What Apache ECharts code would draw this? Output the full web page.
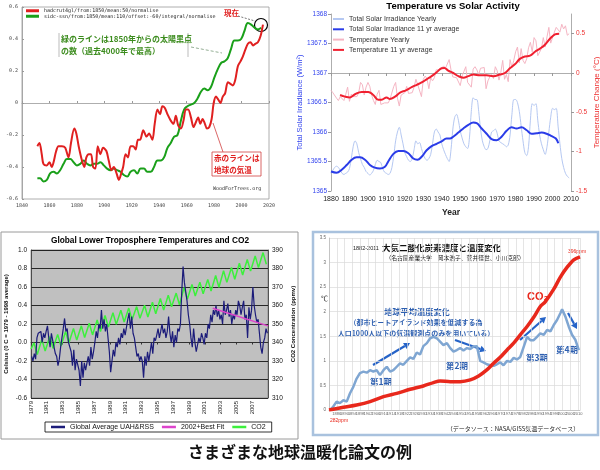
<!DOCTYPE html>
<html><head><meta charset="utf-8">
<script src="https://cdn.jsdelivr.net/npm/echarts/dist/echarts.min.js"></script>
<style>html,body{margin:0;padding:0;background:#fff}#c{width:600px;height:470px}</style>
</head><body><div id="c"></div>
<script>
// ---------- Top-left: WoodForTrees (year, normalised value) ----------
const tlRed = [[1851.2,-0.27],[1852.7,-0.25],[1854.4,-0.32],[1855.6,-0.38],[1858.1,-0.39],[1860.0,-0.37],[1861.7,-0.40],[1863.0,-0.37],[1864.9,-0.30],[1866.6,-0.27],[1869.1,-0.27],[1871.5,-0.28],[1873.9,-0.34],[1875.7,-0.25],[1878.1,-0.16],[1879.6,-0.19],[1881.3,-0.27],[1883.7,-0.36],[1885.4,-0.40],[1886.9,-0.34],[1888.6,-0.32],[1890.3,-0.32],[1891.8,-0.40],[1893.5,-0.41],[1895.2,-0.27],[1897.1,-0.32],[1899.1,-0.28],[1901.5,-0.30],[1903.2,-0.36],[1905.2,-0.42],[1906.9,-0.40],[1908.9,-0.44],[1910.6,-0.48],[1912.3,-0.44],[1913.7,-0.40],[1915.5,-0.32],[1917.2,-0.34],[1919.1,-0.27],[1921.1,-0.27],[1922.8,-0.29],[1924.5,-0.23],[1926.0,-0.23],[1928.4,-0.17],[1930.8,-0.21],[1932.6,-0.19],[1935.0,-0.23],[1936.7,-0.13],[1938.7,-0.04],[1940.6,-0.07],[1942.3,-0.02],[1944.0,-0.03],[1946.0,-0.07],[1948.4,-0.11],[1950.4,-0.13],[1952.1,-0.08],[1953.8,-0.14],[1955.8,-0.16],[1957.7,-0.11],[1959.4,-0.04],[1961.1,-0.04],[1963.1,-0.09],[1965.0,-0.15],[1966.7,-0.12],[1968.4,-0.09],[1969.9,-0.13],[1971.6,-0.10],[1973.3,-0.13],[1974.8,-0.16],[1976.5,-0.15],[1978.2,-0.10],[1979.7,0.00],[1981.4,0.04],[1983.1,0.02],[1984.6,0.00],[1986.3,0.04],[1988.0,0.06],[1990.0,0.13],[1991.9,0.12],[1993.6,0.11],[1995.3,0.14],[1997.3,0.23],[1999.2,0.26],[2000.9,0.29],[2002.6,0.33],[2004.6,0.37],[2006.5,0.38],[2008.3,0.36],[2010.0,0.37],[2011.9,0.38],[2013.9,0.42],[2015.6,0.49]];
const tlGreen = [[1851.2,-0.47],[1853.2,-0.47],[1855.6,-0.49],[1858.1,-0.48],[1860.5,-0.44],[1863.0,-0.43],[1865.4,-0.44],[1867.8,-0.42],[1870.3,-0.38],[1872.7,-0.35],[1875.2,-0.35],[1877.6,-0.37],[1880.0,-0.39],[1882.5,-0.38],[1884.9,-0.36],[1887.4,-0.38],[1889.8,-0.39],[1892.3,-0.38],[1894.7,-0.38],[1897.1,-0.37],[1899.6,-0.39],[1902.0,-0.41],[1904.5,-0.42],[1906.9,-0.41],[1909.4,-0.42],[1911.8,-0.43],[1914.2,-0.45],[1916.7,-0.46],[1919.1,-0.43],[1921.6,-0.42],[1924.0,-0.44],[1926.4,-0.41],[1928.9,-0.41],[1931.3,-0.43],[1933.8,-0.43],[1936.2,-0.40],[1938.7,-0.36],[1941.1,-0.36],[1943.5,-0.34],[1946.0,-0.28],[1948.4,-0.25],[1950.9,-0.21],[1953.3,-0.20],[1955.8,-0.11],[1958.2,-0.04],[1960.6,-0.02],[1963.1,-0.01],[1965.5,0.00],[1968.0,0.03],[1970.4,0.07],[1972.8,0.09],[1975.3,0.08],[1977.7,0.10],[1980.2,0.16],[1982.6,0.21],[1985.1,0.25],[1987.5,0.26],[1989.9,0.28],[1992.4,0.34],[1994.8,0.39],[1997.3,0.39],[1999.7,0.40],[2002.1,0.45],[2004.6,0.50],[2007.0,0.49],[2009.5,0.47],[2011.9,0.46],[2014.4,0.47]];
const tlRedName = 'hadcrut4gl/from:1850/mean:50/normalise';
const tlGreenName = 'sidc-ssn/from:1850/mean:110/offset:-60/integral/normalise';

// ---------- Top-right: Temperature vs Solar Activity ----------
const trFirstYear = 1880;
const trSolarYearly = [
1365.30,1365.35,1365.40,1365.42,1365.40,1365.35,1365.30,1365.28,1365.30,1365.32,
1365.38,1365.55,1365.75,1365.85,1365.80,1365.65,1365.55,1365.45,1365.40,1365.33,
1365.30,1365.27,1365.30,1365.35,1365.45,1365.52,1365.50,1365.48,1365.38,1365.32,
1365.30,1365.28,1365.30,1365.40,1365.60,1365.85,1366.00,1366.08,1365.95,1365.80,
1365.65,1365.58,1365.52,1365.50,1365.55,1365.70,1365.85,1365.80,1365.82,1365.72,
1365.62,1365.55,1365.52,1365.55,1365.62,1365.80,1366.00,1366.05,1366.00,1365.95,
1365.80,1365.70,1365.62,1365.55,1365.50,1365.70,1366.05,1366.25,1366.30,1366.20,
1366.02,1365.90,1365.80,1365.75,1365.72,1365.90,1366.35,1366.58,1366.55,1366.55,
1366.35,1366.05,1365.85,1365.75,1365.70,1365.72,1365.85,1366.00,1366.02,1366.05,
1365.98,1365.85,1365.82,1365.80,1365.78,1365.75,1365.78,1365.95,1366.30,1366.55,
1366.55,1366.50,1366.35,1366.10,1365.85,1365.65,1365.60,1365.75,1366.20,1366.48,
1366.45,1366.48,1366.20,1365.95,1365.80,1365.70,1365.62,1365.75,1366.00,1366.25,
1366.40,1366.38,1366.40,1366.10,1365.80,1365.55,1365.40,1365.30,1365.25,1365.22];
const trSolarAvg = [[1880,1365.33],[1883,1365.31],[1885.8,1365.36],[1888.5,1365.44],[1891.2,1365.53],[1893.9,1365.57],[1895.7,1365.57],[1898.4,1365.53],[1901.1,1365.44],[1903.3,1365.40],[1906.5,1365.38],[1909.2,1365.41],[1911.0,1365.50],[1913.8,1365.63],[1916.5,1365.68],[1919.2,1365.68],[1921.9,1365.64],[1924.6,1365.55],[1926.8,1365.53],[1929.1,1365.58],[1931.8,1365.69],[1934.5,1365.76],[1937.2,1365.80],[1939.9,1365.84],[1942.6,1365.89],[1944.4,1365.89],[1946.2,1365.92],[1949.0,1365.99],[1951.7,1366.06],[1954.4,1366.12],[1957.1,1366.16],[1958.9,1366.15],[1961.6,1366.06],[1964.3,1365.97],[1967.0,1365.88],[1969.7,1365.86],[1972.4,1365.92],[1975.1,1366.02],[1977.8,1366.08],[1980.5,1366.06],[1983.2,1366.08],[1986.0,1366.03],[1988.7,1365.97],[1991.4,1365.98],[1994.1,1365.99],[1996.8,1365.97],[1999.5,1365.93],[2001.8,1365.89],[2003.1,1365.81]];
const trTempYearly = [
-0.22,-0.25,-0.27,-0.32,-0.35,-0.30,-0.28,-0.35,-0.27,-0.18,
-0.36,-0.27,-0.30,-0.32,-0.30,-0.25,-0.12,-0.15,-0.28,-0.18,
-0.12,-0.17,-0.28,-0.35,-0.40,-0.27,-0.22,-0.40,-0.40,-0.38,
-0.36,-0.38,-0.33,-0.32,-0.17,-0.12,-0.32,-0.42,-0.28,-0.26,
-0.25,-0.17,-0.26,-0.24,-0.25,-0.18,-0.08,-0.15,-0.15,-0.30,
-0.08,-0.04,-0.07,-0.20,-0.06,-0.10,-0.06,0.04,0.06,0.04,
0.06,0.09,0.06,0.08,0.17,0.04,-0.05,-0.04,-0.06,-0.07,
-0.16,-0.04,0.02,0.08,-0.12,-0.14,-0.18,0.05,0.08,0.04,
-0.02,0.06,0.04,0.07,-0.20,-0.10,-0.05,-0.02,-0.07,0.08,
0.03,-0.09,0.01,0.16,-0.08,-0.02,-0.11,0.17,0.07,0.16,
0.27,0.33,0.13,0.31,0.16,0.12,0.18,0.32,0.39,0.27,
0.45,0.41,0.22,0.23,0.31,0.45,0.33,0.46,0.58,0.38,
0.39,0.52,0.58,0.57,0.52,0.62,0.56,0.60,0.48,0.50];
const trTempAvg = [[1884.9,-0.28],[1887.6,-0.30],[1890.3,-0.31],[1893.0,-0.27],[1896.6,-0.24],[1900.2,-0.24],[1902.9,-0.28],[1905.6,-0.34],[1907.4,-0.34],[1910.1,-0.31],[1911.9,-0.33],[1914.7,-0.30],[1917.4,-0.25],[1920.6,-0.22],[1923.7,-0.18],[1926.4,-0.15],[1929.1,-0.12],[1931.8,-0.08],[1934.5,-0.04],[1937.2,0.01],[1939.9,0.06],[1941.4,0.065],[1943.5,0.03],[1946.2,0.0],[1949.0,-0.04],[1951.7,-0.06],[1954.4,-0.04],[1957.1,-0.02],[1960.7,-0.03],[1964.3,-0.03],[1967.9,-0.04],[1971.5,-0.02],[1974.2,0.0],[1976.9,0.06],[1979.6,0.11],[1982.3,0.18],[1985.0,0.21],[1987.8,0.22],[1990.5,0.27],[1993.2,0.31],[1995.9,0.36],[1998.6,0.435],[2001.3,0.49],[2003.6,0.50]];

// ---------- Bottom-left: Lower troposphere temps & CO2 (from Jan 1979) ----------
const blStartYear = 1979;
const blUahBimonthly = [
-0.15,-0.20,-0.12,-0.18,0.05,0.10,
0.08,0.12,0.00,0.10,0.05,0.12,
0.18,0.05,-0.05,0.10,0.02,0.00,
-0.12,-0.15,-0.25,-0.18,-0.05,0.05,
0.15,0.26,0.12,0.15,0.00,-0.05,
-0.10,-0.25,-0.08,-0.30,-0.18,-0.20,
-0.30,-0.47,-0.20,-0.38,-0.22,-0.30,
-0.22,-0.15,-0.25,-0.05,-0.18,-0.10,
0.00,0.12,0.05,0.20,0.15,0.35,
0.15,0.25,0.12,0.20,0.05,-0.10,
-0.32,-0.20,-0.08,-0.15,0.00,-0.05,
0.05,-0.02,0.10,0.05,0.15,0.08,
0.10,0.25,0.32,0.15,0.28,0.10,
0.05,-0.05,-0.15,-0.12,-0.20,-0.15,
-0.20,-0.38,-0.15,-0.25,-0.10,-0.20,
-0.10,0.00,-0.12,0.05,0.02,0.08,
0.15,0.05,0.12,0.20,0.10,0.15,
0.05,0.12,0.28,0.10,0.00,0.12,
-0.05,0.08,0.00,0.15,0.12,0.20,
0.55,0.82,0.65,0.55,0.45,0.30,
0.20,0.05,-0.05,0.15,0.00,-0.10,
-0.08,0.05,0.00,0.10,0.05,-0.02,
0.10,0.05,0.20,0.15,0.30,0.22,
0.35,0.30,0.40,0.28,0.35,0.25,
0.30,0.20,0.45,0.30,0.35,0.42,
0.28,0.35,0.20,0.30,0.25,0.35,
0.30,0.45,0.40,0.30,0.38,0.45,
0.25,0.30,0.05,0.38,0.25,0.35,
0.60,0.40,0.30,0.22,0.25,0.10,
-0.05,-0.12,0.00,0.05,0.15,0.10];
const blCo2Start = 336.5;
const blCo2Peaks = [339.8,341.7,343.1,344.4,346.0,347.6,349.0,350.4,352.2,354.6,356.1,357.4,358.6,359.4,360.1,361.8,363.8,365.6,366.7,369.7,371.4,372.6,374.1,376.2,378.8,380.5,382.8,384.9,386.8,388.6];
const blCo2Troughs = [333.5,335.4,336.8,338.1,339.7,341.3,342.7,344.1,345.9,348.3,349.8,351.1,352.3,353.1,353.8,355.5,357.5,359.3,360.4,363.4,365.1,366.3,367.8,369.9,372.5,374.2,376.5,378.6,380.5,382.3];
const blFit = [[2002,0.37],[2009,0.18]];

// ---------- Bottom-right: 1882-2011 CO2 and temperature ----------
const brStartYear = 1882;
const brTemp = [[1882.5,0.0],[1884.2,0.07],[1885.9,0.17],[1887.6,0.14],[1889.4,0.20],[1891.1,0.17],[1892.8,0.34],[1894.5,0.47],[1896.2,0.64],[1897.9,0.75],[1899.7,0.78],[1901.4,0.76],[1903.1,0.81],[1904.8,0.78],[1906.5,0.81],[1908.2,0.71],[1910.0,0.81],[1911.7,0.88],[1913.4,0.78],[1915.1,0.81],[1916.8,0.88],[1918.5,0.95],[1920.2,0.92],[1922.0,1.00],[1923.7,1.07],[1925.4,1.04],[1927.1,1.17],[1928.8,1.13],[1930.5,1.30],[1932.3,1.36],[1934.0,1.46],[1935.7,1.49],[1937.4,1.46],[1939.1,1.39],[1940.8,1.32],[1942.6,1.36],[1944.3,1.26],[1946.0,1.19],[1947.7,1.22],[1949.4,1.26],[1951.1,1.21],[1952.9,1.26],[1954.6,1.24],[1956.3,1.29],[1958.0,1.30],[1959.7,1.00],[1961.4,0.97],[1963.1,0.93],[1964.8,0.91],[1966.6,0.90],[1968.3,0.93],[1970.0,0.97],[1971.7,0.91],[1973.5,1.00],[1975.2,0.98],[1976.9,1.06],[1978.6,1.03],[1980.3,1.08],[1982.1,1.29],[1983.8,1.49],[1985.5,1.42],[1987.2,1.42],[1988.9,1.49],[1990.6,1.56],[1992.4,1.53],[1994.1,1.63],[1995.8,1.60],[1997.5,1.73],[1999.2,1.83],[2000.9,1.97],[2001.8,2.05],[2003.5,1.90],[2005.2,1.70],[2006.9,1.53],[2008.6,1.43],[2010.4,1.22]];
const brCo2 = [[1882,282.0],[1889.4,284.0],[1896.2,285.7],[1903.1,288.2],[1910.0,291.9],[1916.8,294.4],[1923.7,297.4],[1930.5,299.9],[1935.7,302.4],[1939.1,303.6],[1944.3,303.1],[1949.4,303.1],[1954.6,304.4],[1958.9,307.3],[1963.1,311.8],[1966.6,316.8],[1970.0,321.2],[1973.5,326.7],[1976.9,331.7],[1980.3,337.9],[1983.8,344.1],[1987.2,351.0],[1990.6,359.0],[1993.2,362.7],[1997.5,371.9],[2000.9,380.9],[2004.4,388.3],[2007.8,393.8],[2011,396.0]];

// ---------- build derived series data ----------
const trSolarYearlyData = trSolarYearly.map((v,i)=>[trFirstYear+i,v]);
const trTempYearlyData = trTempYearly.map((v,i)=>[trFirstYear+i,v]);
const blUahData = blUahBimonthly.map((v,i)=>[i*2+1,v]);
const blCo2Data = [[0,blCo2Start]];
blCo2Peaks.forEach((p,i)=>{ blCo2Data.push([i*12+4.5,p]); blCo2Data.push([i*12+9.5,blCo2Troughs[i]]); });
const blFitData = blFit.map(d=>[(d[0]-blStartYear)*12,d[1]]);
const brTempData = brTemp.map(d=>[d[0]-brStartYear,d[1]]);
const brCo2Data = brCo2.map(d=>[d[0]-brStartYear,d[1]]);

const SANS = 'Liberation Sans, Arial, sans-serif';
const MONO = 'DejaVu Sans Mono, monospace';
const JP = 'Noto Sans CJK JP, sans-serif';
const plain = v => String(Math.round(v*1000)/1000);

function arrow(x1,y1,x2,y2,color){
  const a=Math.atan2(y2-y1,x2-x1), L=6, W=3.5;
  const bx=x2-L*Math.cos(a), by=y2-L*Math.sin(a);
  const px=-Math.sin(a)*W, py=Math.cos(a)*W;
  return [
    {type:'line',shape:{x1:x1,y1:y1,x2:bx,y2:by},style:{stroke:color,lineWidth:2.2}},
    {type:'polygon',shape:{points:[[x2,y2],[bx+px,by+py],[bx-px,by-py]]},style:{fill:color}}
  ];
}
function txt(text,x,y,opt){
  return {type:'text',style:Object.assign({text:text,x:x,y:y,fill:'#000',font:'8px '+SANS,align:'left',verticalAlign:'middle'},opt||{})};
}
const blueTxt = '#2d5fb0';
const graphics = [
  {type:'rect',shape:{x:1,y:232,width:297,height:207},style:{fill:'none',stroke:'#9a9a9a',lineWidth:1}},
  {type:'rect',shape:{x:313,y:232,width:285,height:203},style:{fill:'none',stroke:'#a9c2de',lineWidth:2.5}},
  {type:'line',shape:{x1:59,y1:33,x2:59,y2:57},style:{stroke:'#aaa',lineWidth:0.8}},
  {type:'line',shape:{x1:188,y1:33,x2:188,y2:57},style:{stroke:'#aaa',lineWidth:0.8}},
  txt('緑のラインは1850年からの太陽黒点',61,39,{fill:'#3c8c1e',font:'bold 8px '+JP}),
  txt('の数（過去4000年で最高）',61,51,{fill:'#3c8c1e',font:'bold 8px '+JP}),
  {type:'line',shape:{x1:191,y1:47,x2:222,y2:53},style:{stroke:'#7a9a7a',lineWidth:0.8,lineDash:[3,2]}},
  txt('現在',224,13,{fill:'#e02020',font:'bold 7.5px '+JP}),
  {type:'line',shape:{x1:238,y1:16,x2:255,y2:21},style:{stroke:'#555',lineWidth:0.8,lineDash:[2,1.5]}},
  {type:'circle',shape:{cx:261,cy:25,r:6.5},style:{fill:'none',stroke:'#000',lineWidth:1.2}},
  {type:'line',shape:{x1:223,y1:152,x2:213,y2:123},style:{stroke:'#d04040',lineWidth:0.8}},
  {type:'rect',shape:{x:212,y:152,width:49,height:24},style:{fill:'#fff',stroke:'#d04040',lineWidth:0.8}},
  txt('赤のラインは',214,158,{fill:'#e02020',font:'bold 7.6px '+JP}),
  txt('地球の気温',214,170,{fill:'#e02020',font:'bold 7.6px '+JP}),
  txt('WoodForTrees.org',213,189,{fill:'#333',font:'5px '+MONO}),
  txt('Temperature vs Solar Activity',453,6,{font:'bold 9.5px '+SANS,align:'center'}),
  txt('Global Lower Troposphere Temperatures and CO2',150,241,{font:'bold 8.3px '+SANS,align:'center'}),
  txt('1882-2011',353,248,{font:'5.5px '+SANS,fill:'#222'}),
  txt('大気二酸化炭素濃度と温度変化',382,248,{font:'bold 8.5px '+JP,fill:'#111'}),
  txt('（名古屋産業大学　岡本浩子、菅井径世、小川克郎）',455,258,{font:'5.8px '+JP,fill:'#222',align:'center'}),
  txt('℃',321,298,{font:'7px '+JP,fill:'#222'}),
  txt('CO₂',527,297,{font:'bold 11px '+SANS,fill:'#e8281c'}),
  txt('396ppm',568,252,{font:'5px '+SANS,fill:'#e8281c'}),
  txt('282ppm',330,421,{font:'5px '+SANS,fill:'#e8281c'}),
  txt('地球平均温度変化',417,312,{font:'bold 8.2px '+JP,fill:blueTxt,align:'center'}),
  txt('（都市ヒートアイランド効果を低減する為',416,322,{font:'bold 7px '+JP,fill:blueTxt,align:'center'}),
  txt('人口1000人以下の気温観測点のみを用いている）',416,333,{font:'bold 7px '+JP,fill:blueTxt,align:'center'}),
  txt('第1期',381,382,{font:'bold 8.5px '+JP,fill:blueTxt,align:'center'}),
  txt('第2期',457,366,{font:'bold 8.5px '+JP,fill:blueTxt,align:'center'}),
  txt('第3期',537,358,{font:'bold 8.5px '+JP,fill:blueTxt,align:'center'}),
  txt('第4期',567,350,{font:'bold 8.5px '+JP,fill:blueTxt,align:'center'}),
  txt('（データソース：NASA/GISS気温データベース）',513,429,{font:'6px '+JP,fill:'#222',align:'center'}),
  txt('さまざまな地球温暖化論文の例',300,452,{font:'bold 16px '+JP,fill:'#111',align:'center'})
].concat(arrow(373,365,410,343,'#2563c8'), arrow(455,340,486,351,'#2563c8'), arrow(520,340,546,317,'#2563c8'), arrow(568,313,577,329,'#2563c8'));

const thinAxis = c => ({show:true,lineStyle:{color:c,width:0.8}});
const option = {
  animation:false,
  backgroundColor:'#fff',
  textStyle:{fontFamily:SANS},
  grid:[
    {left:22,top:7,width:247,height:192,show:true,borderColor:'#999',borderWidth:0.8,containLabel:false,outerBoundsMode:'none'},
    {left:331,top:14,width:240,height:177,containLabel:false,outerBoundsMode:'none'},
    {left:31,top:250,width:237,height:148,show:true,backgroundColor:'#c0c0c0',borderColor:'#808080',borderWidth:0.8,containLabel:false,outerBoundsMode:'none'},
    {left:329,top:238,width:251,height:172,containLabel:false,outerBoundsMode:'none'}
  ],
  xAxis:[
    {gridIndex:0,type:'value',min:1840,max:2020,interval:20,axisLine:thinAxis('#999'),axisTick:{show:true,inside:true,length:2,lineStyle:{color:'#999'}},axisLabel:{fontSize:5,color:'#444',fontFamily:MONO,margin:4,formatter:plain},splitLine:{show:false}},
    {gridIndex:1,type:'value',min:1880,max:2010,interval:10,axisLine:thinAxis('#999'),axisTick:{show:true,length:3,lineStyle:{color:'#999'}},axisLabel:{fontSize:7,color:'#222',margin:5,formatter:plain},splitLine:{show:false},name:'Year',nameLocation:'middle',nameGap:17,nameTextStyle:{fontSize:8.5,fontWeight:'bold',color:'#222'},nameMoveOverlap:false},
    {gridIndex:2,type:'value',min:0,max:360,interval:24,axisLine:thinAxis('#333'),axisTick:{show:true,length:2,lineStyle:{color:'#333'}},axisLabel:{fontSize:6,color:'#222',rotate:90,margin:3,showMaxLabel:false,formatter:v=>String(blStartYear+v/12)},splitLine:{show:false}},
    {gridIndex:3,type:'value',min:0,max:129,interval:4,axisLine:thinAxis('#bbb'),axisTick:{show:false},axisLabel:{fontSize:4,color:'#666',margin:2,showMaxLabel:false,formatter:v=>String(brStartYear+v)},splitLine:{show:true,lineStyle:{color:'#dadada',width:0.7}}}
  ],
  yAxis:[
    {gridIndex:0,type:'value',min:-0.6,max:0.6,interval:0.2,axisLine:thinAxis('#999'),axisTick:{show:true,inside:true,length:2,lineStyle:{color:'#999'}},axisLabel:{fontSize:5,color:'#444',fontFamily:MONO,margin:4,formatter:plain},splitLine:{show:false}},
    {gridIndex:1,type:'value',min:1365,max:1368,interval:0.5,axisLine:thinAxis('#999'),axisTick:{show:true,length:3,lineStyle:{color:'#999'}},axisLabel:{fontSize:6.5,color:'#3344ee',margin:4,formatter:plain},splitLine:{show:false},name:'Total Solar Irradiance (W/m²)',nameLocation:'middle',nameGap:27,nameTextStyle:{fontSize:7.5,color:'#3344ee'},nameMoveOverlap:false},
    {gridIndex:1,type:'value',position:'right',min:-1.5,max:0.75,interval:0.5,axisLine:thinAxis('#999'),axisTick:{show:true,length:3,lineStyle:{color:'#999'}},axisLabel:{fontSize:6.5,color:'#ee3333',margin:5,showMaxLabel:false,formatter:plain},splitLine:{show:false},name:'Temperature Change (°C)',nameLocation:'middle',nameGap:22,nameTextStyle:{fontSize:8,color:'#ee3333'},nameMoveOverlap:false},
    {gridIndex:2,type:'value',min:-0.6,max:1.0,interval:0.2,axisLine:thinAxis('#333'),axisTick:{show:false},axisLabel:{fontSize:6.5,color:'#111',margin:4,formatter:v=>v.toFixed(1)},splitLine:{show:true,lineStyle:{color:'#000',width:0.8}},name:'Celsius (0 C = 1979 - 1998 average)',nameLocation:'middle',nameGap:22,nameTextStyle:{fontSize:6,fontWeight:'bold',color:'#111'},nameMoveOverlap:false},
    {gridIndex:2,type:'value',position:'right',min:310,max:390,interval:10,axisLine:thinAxis('#333'),axisTick:{show:false},axisLabel:{fontSize:6.5,color:'#111',margin:4,formatter:plain},splitLine:{show:false},name:'CO2 Concentration (ppmv)',nameLocation:'middle',nameGap:22,nameTextStyle:{fontSize:6,fontWeight:'bold',color:'#111'},nameMoveOverlap:false},
    {gridIndex:3,type:'value',min:0,max:3.5,interval:0.5,axisLine:thinAxis('#bbb'),axisTick:{show:false},axisLabel:{fontSize:4.5,color:'#666',margin:3,formatter:plain},splitLine:{show:true,lineStyle:{color:'#dadada',width:0.7}}},
    {gridIndex:3,type:'value',min:282,max:410,show:false,splitLine:{show:false}}
  ],
  legend:[
    {left:26,top:8,orient:'vertical',itemWidth:13,itemHeight:3,itemGap:0,icon:'rect',selectedMode:false,padding:0,textStyle:{fontSize:5,fontFamily:MONO,color:'#222',lineHeight:5.5},data:[tlRedName,tlGreenName]},
    {left:333,top:15,orient:'vertical',itemWidth:11,itemHeight:2,itemGap:2.3,icon:'rect',selectedMode:false,padding:0,textStyle:{fontSize:7,color:'#333',lineHeight:8},data:['Total Solar Irradiance Yearly','Total Solar Irradiance 11 yr average','Temperature Yearly','Temperature 11 yr average']},
    {left:45,top:422,orient:'horizontal',itemWidth:14,itemHeight:2.5,itemGap:8,icon:'rect',selectedMode:false,padding:[1.5,6],borderColor:'#000',borderWidth:0.8,backgroundColor:'#fff',textStyle:{fontSize:7,color:'#111'},data:['Global Average UAH&RSS','2002+Best Fit','CO2']}
  ],
  series:[
    {name:tlGreenName,type:'line',xAxisIndex:0,yAxisIndex:0,data:tlGreen,smooth:0.4,showSymbol:false,lineStyle:{width:2,color:'#1aa01a'},itemStyle:{color:'#1aa01a'}},
    {name:tlRedName,type:'line',xAxisIndex:0,yAxisIndex:0,data:tlRed,smooth:0.3,showSymbol:false,lineStyle:{width:2,color:'#e02020'},itemStyle:{color:'#e02020'}},
    {name:'Total Solar Irradiance Yearly',type:'line',xAxisIndex:1,yAxisIndex:1,data:trSolarYearlyData,smooth:0.3,showSymbol:false,lineStyle:{width:1,color:'#b5c8f2'},itemStyle:{color:'#b5c8f2'}},
    {name:'Temperature Yearly',type:'line',xAxisIndex:1,yAxisIndex:2,data:trTempYearlyData,showSymbol:false,lineStyle:{width:1,color:'#f5b5c3'},itemStyle:{color:'#f5b5c3'}},
    {name:'Total Solar Irradiance 11 yr average',type:'line',xAxisIndex:1,yAxisIndex:1,data:trSolarAvg,smooth:0.4,showSymbol:false,lineStyle:{width:2,color:'#2a3ce8'},itemStyle:{color:'#2a3ce8'}},
    {name:'Temperature 11 yr average',type:'line',xAxisIndex:1,yAxisIndex:2,data:trTempAvg,smooth:0.4,showSymbol:false,lineStyle:{width:2,color:'#f02030'},itemStyle:{color:'#f02030'}},
    {name:'CO2',type:'line',xAxisIndex:2,yAxisIndex:4,data:blCo2Data,showSymbol:false,lineStyle:{width:1.5,color:'#3cf03c'},itemStyle:{color:'#3cf03c'}},
    {name:'Global Average UAH&RSS',type:'line',xAxisIndex:2,yAxisIndex:3,data:blUahData,showSymbol:false,lineStyle:{width:1.2,color:'#1c1c7a'},itemStyle:{color:'#1c1c7a'}},
    {name:'2002+Best Fit',type:'line',xAxisIndex:2,yAxisIndex:3,data:blFitData,showSymbol:false,lineStyle:{width:1.5,color:'#dd44cc'},itemStyle:{color:'#dd44cc'}},
    {name:'地球平均温度変化',type:'line',xAxisIndex:3,yAxisIndex:5,data:brTempData,showSymbol:false,lineStyle:{width:2.5,color:'#7fa6d2'},itemStyle:{color:'#7fa6d2'}},
    {name:'大気二酸化炭素濃度',type:'line',xAxisIndex:3,yAxisIndex:6,data:brCo2Data,smooth:0.3,showSymbol:false,lineStyle:{width:3.5,color:'#e8281c'},itemStyle:{color:'#e8281c'}}
  ],
  graphic:{elements:graphics}
};
const chart = echarts.init(document.getElementById('c'),null,{renderer:'canvas'});
chart.setOption(option);
</script></body></html>
